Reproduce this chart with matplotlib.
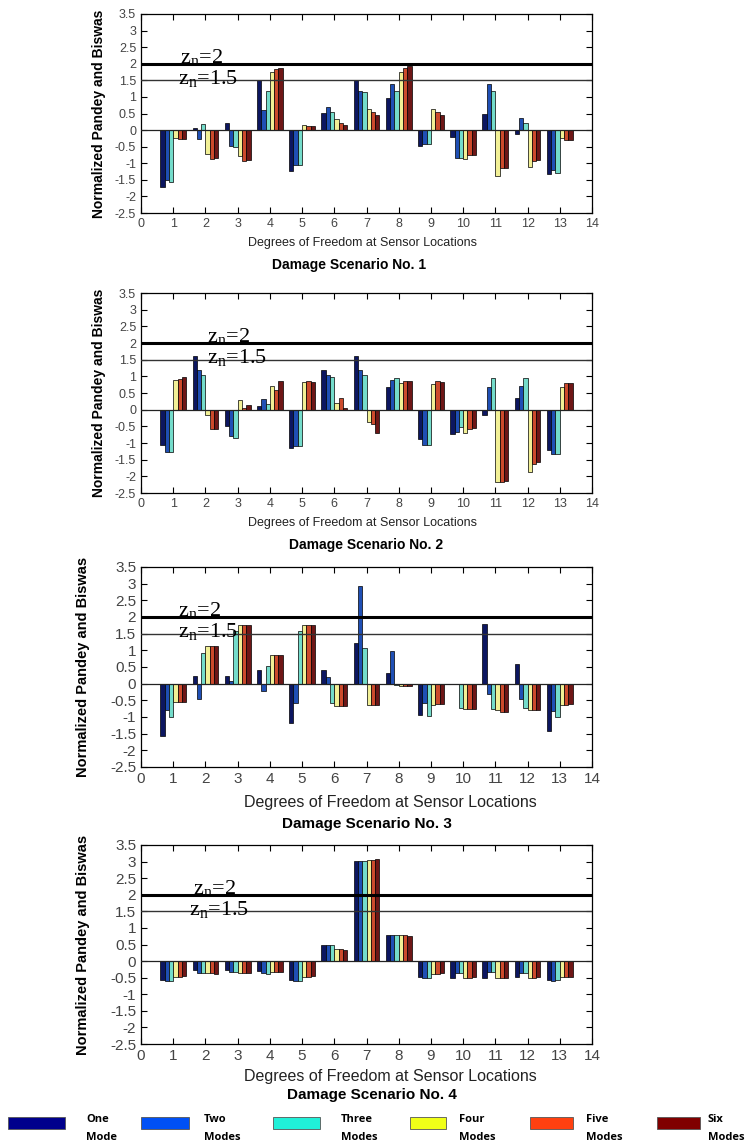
import numpy as np
import matplotlib
matplotlib.use('Agg')
import matplotlib.pyplot as plt
from matplotlib.patches import Rectangle

plt.rcParams['font.family'] = ['Liberation Sans', 'DejaVu Sans']
plt.rcParams['mathtext.fontset'] = 'custom'
plt.rcParams['mathtext.rm'] = 'Liberation Serif'

dofs = np.arange(1, 14)
mode_names = ['One\nMode', 'Two\nModes', 'Three\nModes', 'Four\nModes', 'Five\nModes', 'Six\nModes']
bar_colors = ['#0c1660', '#1f4fb5', '#74dccb', '#f2f096', '#cc4a2c', '#6e1616']
patch_colors = ['#00008c', '#0050f5', '#20f0d8', '#f0ff18', '#ff4010', '#800000']

# normalized index per DOF, one row per number of modes used
scenario1 = [
    [-1.73, 0.05, 0.22, 1.50, -1.23, 0.51, 1.50, 0.97, -0.48, -0.22, 0.47, -0.11, -1.32],
    [-1.50, -0.26, -0.48, 0.62, -1.04, 0.69, 1.19, 1.40, -0.43, -0.83, 1.40, 0.36, -1.19],
    [-1.58, 0.19, -0.51, 1.19, -1.04, 0.54, 1.14, 1.19, -0.43, -0.83, 1.19, 0.21, -1.30],
    [-0.23, -0.72, -0.78, 1.76, 0.15, 0.33, 0.65, 1.76, 0.65, -0.87, -1.37, -1.12, -0.25],
    [-0.27, -0.87, -0.93, 1.85, 0.12, 0.22, 0.54, 1.87, 0.54, -0.76, -1.15, -0.93, -0.29],
    [-0.27, -0.84, -0.91, 1.87, 0.12, 0.15, 0.44, 1.94, 0.44, -0.76, -1.15, -0.91, -0.29],
]
scenario2 = [
    [-1.06, 1.60, -0.49, 0.10, -1.16, 1.19, 1.60, 0.69, -0.89, -0.74, -0.16, 0.36, -1.21],
    [-1.28, 1.18, -0.78, 0.32, -1.08, 1.04, 1.18, 0.90, -1.06, -0.67, 0.69, 0.72, -1.34],
    [-1.28, 1.04, -0.85, 0.18, -1.09, 0.97, 1.04, 0.94, -1.06, -0.52, 0.94, 0.94, -1.34],
    [0.89, -0.16, 0.29, 0.72, 0.83, 0.21, -0.37, 0.81, 0.76, -0.70, -2.18, -1.86, 0.69],
    [0.93, -0.59, 0.04, 0.58, 0.86, 0.36, -0.42, 0.87, 0.87, -0.58, -2.18, -1.64, 0.80],
    [0.97, -0.57, 0.14, 0.87, 0.84, 0.04, -0.71, 0.87, 0.83, -0.56, -2.14, -1.58, 0.80],
]
scenario3 = [
    [-1.58, 0.22, 0.22, 0.40, -1.17, 0.40, 1.22, 0.32, -0.93, 0.00, 1.78, 0.58, -1.43],
    [-0.80, -0.46, 0.07, -0.22, -0.57, 0.19, 2.93, 0.97, -0.58, -0.02, -0.32, -0.46, -0.82],
    [-1.00, 0.92, 1.57, 0.54, 1.57, -0.57, 1.07, -0.05, -0.97, -0.72, -0.75, -0.74, -1.00],
    [-0.55, 1.14, 1.75, 0.86, 1.75, -0.67, -0.65, -0.07, -0.64, -0.75, -0.80, -0.79, -0.63],
    [-0.55, 1.14, 1.75, 0.86, 1.75, -0.67, -0.65, -0.07, -0.62, -0.75, -0.85, -0.79, -0.63],
    [-0.55, 1.14, 1.75, 0.86, 1.75, -0.67, -0.65, -0.07, -0.62, -0.75, -0.85, -0.79, -0.61],
]
scenario4 = [
    [-0.57, -0.27, -0.27, -0.30, -0.57, 0.47, 3.03, 0.78, -0.47, -0.50, -0.50, -0.47, -0.57],
    [-0.60, -0.37, -0.33, -0.37, -0.60, 0.50, 3.03, 0.78, -0.50, -0.37, -0.33, -0.37, -0.60],
    [-0.60, -0.37, -0.33, -0.40, -0.60, 0.50, 3.03, 0.78, -0.50, -0.37, -0.33, -0.37, -0.57],
    [-0.47, -0.37, -0.37, -0.33, -0.47, 0.37, 3.05, 0.78, -0.40, -0.50, -0.50, -0.50, -0.47],
    [-0.47, -0.37, -0.37, -0.33, -0.47, 0.37, 3.05, 0.78, -0.40, -0.50, -0.50, -0.50, -0.47],
    [-0.44, -0.40, -0.37, -0.33, -0.44, 0.33, 3.08, 0.75, -0.37, -0.47, -0.50, -0.47, -0.47],
]
scenarios = [scenario1, scenario2, scenario3, scenario4]

W, H = 748, 1144
fig = plt.figure(figsize=(W / 100, H / 100), dpi=100)

# axes boxes in pixels: (left, top, right, bottom)
boxes = [(141, 14, 592, 213), (141, 293, 592, 493), (141, 567, 592, 767), (141, 845, 592, 1044)]
tick_size = [9, 9, 11, 11]
ylab_size = [10, 10, 10.5, 10.5]
ylab_x = [-0.078, -0.078, -0.112, -0.112]
xlab = [(363, 243, 9), (363, 523, 9), (390, 803, 11.5), (390, 1077, 11.5)]
ttl = [(349, 265, 10), (366, 545, 10), (367, 824, 11), (372, 1095, 11)]
zn_x = [(1.2, 1.15), (2.05, 2.05), (1.15, 1.15), (1.6, 1.5)]

group_w = 0.8
bw = group_w / 6

for k, data in enumerate(scenarios):
    l, t, r, b = boxes[k]
    ax = fig.add_axes([l / W, 1 - b / H, (r - l) / W, (b - t) / H])
    for i in range(6):
        xs = dofs + (i - 2.5) * bw
        ax.bar(xs, data[i], width=bw, color=bar_colors[i], edgecolor='black', linewidth=0.5, zorder=2)

    ax.axhline(0, color='#222222', lw=0.9, zorder=3)
    ax.axhline(2, color='black', lw=2.2, zorder=3)
    ax.axhline(1.5, color='#333333', lw=1.0, zorder=3)

    ax.text(zn_x[k][0], 2.02, r'z$_{\mathrm{n}}$=2', fontfamily='Liberation Serif', fontsize=16, va='baseline', zorder=4)
    ax.text(zn_x[k][1], 1.38, r'z$_{\mathrm{n}}$=1.5', fontfamily='Liberation Serif', fontsize=16, va='baseline', zorder=4)

    ax.set_xlim(0, 14)
    ax.set_ylim(-2.5, 3.5)
    ax.set_xticks(np.arange(0, 15))
    ax.set_yticks(np.arange(-2.5, 3.6, 0.5))
    ax.set_yticklabels(['%g' % v for v in np.arange(-2.5, 3.6, 0.5)])
    ax.tick_params(direction='in', top=True, right=True, length=4, width=0.8,
                   labelsize=tick_size[k], labelcolor='#444444')
    for s in ax.spines.values():
        s.set_linewidth(0.9)
    ax.set_ylabel('Normalized Pandey and Biswas', fontsize=ylab_size[k], fontweight='bold')
    ax.yaxis.set_label_coords(ylab_x[k], 0.5)

    fig.text(xlab[k][0] / W, 1 - xlab[k][1] / H, 'Degrees of Freedom at Sensor Locations',
             fontsize=xlab[k][2], color='#222222', ha='center', va='center')
    fig.text(ttl[k][0] / W, 1 - ttl[k][1] / H, 'Damage Scenario No. %d' % (k + 1),
             fontsize=ttl[k][2], fontweight='bold', ha='center', va='center')

# legend row along the bottom
patch_x = [(8, 65), (141, 189), (273, 320), (410, 446), (530, 573), (657, 700)]
label_x = [86, 204, 341, 459, 586, 708]
for i in range(6):
    x0, x1 = patch_x[i]
    fig.patches.append(Rectangle((x0 / W, 1 - 1129 / H), (x1 - x0) / W, 12 / H,
                                 transform=fig.transFigure, facecolor=patch_colors[i],
                                 edgecolor='#555555', linewidth=0.6))
    top, bot = mode_names[i].split('\n')
    fig.text(label_x[i] / W, 1 - 1120 / H, top, fontsize=8, fontweight='bold',
             fontfamily='Open Sans', va='center')
    fig.text(label_x[i] / W, 1 - 1137 / H, bot, fontsize=8, fontweight='bold',
             fontfamily='Open Sans', va='center')

fig.savefig('out.png', dpi=100)
